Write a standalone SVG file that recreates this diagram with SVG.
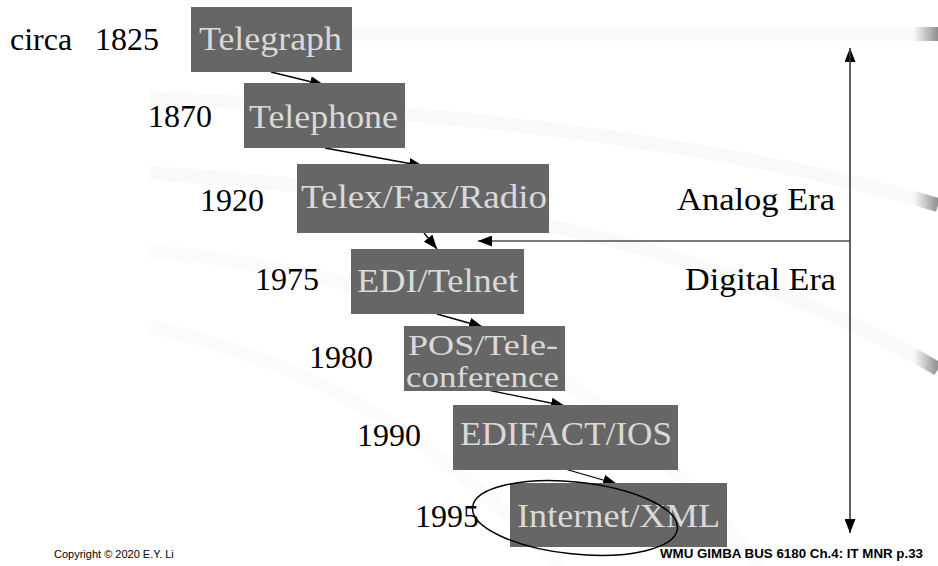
<svg xmlns="http://www.w3.org/2000/svg" width="938" height="566" viewBox="0 0 938 566">
<defs>
  <linearGradient id="swEnd" gradientUnits="userSpaceOnUse" x1="914" y1="0" x2="938" y2="0">
    <stop offset="0" stop-color="#f9f9f9"/>
    <stop offset="1" stop-color="#8f8f8f"/>
  </linearGradient>
  <marker id="ah" markerWidth="14" markerHeight="11" refX="14" refY="5.5" orient="auto" markerUnits="userSpaceOnUse">
    <path d="M0,0 L14,5.5 L0,11 z" fill="#000"/>
  </marker>
</defs>
<style>
  .sw { fill: none; stroke: url(#swEnd); stroke-width: 14; }
  .sw2 { fill: none; stroke: #fbfbfb; stroke-width: 14; }
  .box { fill: #666666; }
  .bt { font-family: "Liberation Serif", "Times New Roman", serif; font-size: 33px; fill: #d9d9d9; }
  .bt2 { font-family: "Liberation Serif", "Times New Roman", serif; font-size: 29px; fill: #d9d9d9; }
  .lab { font-family: "Liberation Serif", "Times New Roman", serif; font-size: 32px; fill: #000; }
  .con { fill: none; stroke: #000; stroke-width: 1.3; marker-end: url(#ah); }
  .era { fill: none; stroke: #4d4d4d; stroke-width: 1.3; }
  .foot { font-family: "Liberation Sans", Arial, sans-serif; fill: #000; }
</style>
<rect width="938" height="566" fill="#ffffff"/>
<!-- background swooshes -->
<g id="background">
  <path class="sw" d="M255 34 L938 34"/>
  <path class="sw" d="M150 98 Q640 118 938 205"/>
  <path class="sw" d="M150 173 Q660 205 938 369"/>
  <path class="sw2" d="M150 251 C 380 275, 560 320, 760 566"/>
  <path class="sw2" d="M150 327 C 300 360, 420 420, 560 566"/>
</g>

<g id="connectors">
  <line class="con" x1="271" y1="72" x2="324" y2="85"/>
  <line class="con" x1="325" y1="148" x2="423" y2="166"/>
  <line class="con" x1="424" y1="233" x2="437" y2="249"/>
  <line class="con" x1="437" y1="314" x2="483" y2="327"/>
  <line class="con" x1="483" y1="389" x2="565" y2="406"/>
  <line class="con" x1="565" y1="469" x2="617" y2="484"/>
  <line class="era" x1="850" y1="533" x2="850" y2="48" marker-end="url(#ah)"/>
  <line class="era" x1="850" y1="48" x2="850" y2="533" marker-end="url(#ah)"/>
  <line class="era" x1="850" y1="241" x2="478" y2="241" marker-end="url(#ah)"/>
</g>

<g id="telegraph">
  <rect class="box" x="191" y="7" width="161" height="65"/>
  <text class="bt" x="199" y="50" textLength="143" lengthAdjust="spacingAndGlyphs">Telegraph</text>
</g>
<g id="telephone">
  <rect class="box" x="244" y="83" width="161" height="65"/>
  <text class="bt" x="249" y="128" textLength="149" lengthAdjust="spacingAndGlyphs">Telephone</text>
</g>
<g id="telex">
  <rect class="box" x="297" y="164" width="252" height="69"/>
  <text class="bt" x="301" y="208" textLength="246" lengthAdjust="spacingAndGlyphs">Telex/Fax/Radio</text>
</g>
<g id="edi">
  <rect class="box" x="351" y="249" width="173" height="65"/>
  <text class="bt" x="357" y="292" textLength="161" lengthAdjust="spacingAndGlyphs">EDI/Telnet</text>
</g>
<g id="pos">
  <rect class="box" x="404" y="326" width="161" height="65"/>
  <text class="bt2" x="408" y="355" textLength="150" lengthAdjust="spacingAndGlyphs">POS/Tele-</text>
  <text class="bt2" x="406" y="387" textLength="153" lengthAdjust="spacingAndGlyphs">conference</text>
</g>
<g id="edifact">
  <rect class="box" x="453" y="405" width="225" height="65"/>
  <text class="bt" x="460" y="445" textLength="212" lengthAdjust="spacingAndGlyphs">EDIFACT/IOS</text>
</g>
<g id="internet">
  <rect class="box" x="510" y="483" width="217" height="64"/>
  <text class="bt" x="517" y="527" textLength="203" lengthAdjust="spacingAndGlyphs">Internet/XML</text>
</g>

<g id="labels">
  <text class="lab" x="10" y="50">circa</text>
  <text class="lab" x="95" y="50">1825</text>
  <text class="lab" x="148" y="127">1870</text>
  <text class="lab" x="200" y="211">1920</text>
  <text class="lab" x="255" y="290">1975</text>
  <text class="lab" x="309" y="368">1980</text>
  <text class="lab" x="357" y="446">1990</text>
  <text class="lab" x="415" y="527">1995</text>
  <text class="lab" x="677" y="210" textLength="158" lengthAdjust="spacingAndGlyphs">Analog Era</text>
  <text class="lab" x="685" y="290" textLength="151" lengthAdjust="spacingAndGlyphs">Digital Era</text>
</g>

<g id="highlight">
  <ellipse cx="575" cy="518" rx="103" ry="36" transform="rotate(6 575 518)" fill="none" stroke="#000" stroke-width="1.5"/>
</g>

<g id="footer">
  <text class="foot" x="54" y="558" font-size="11">Copyright © 2020 E.Y. Li</text>
  <text class="foot" x="660" y="558" font-size="13" font-weight="bold" textLength="263" lengthAdjust="spacingAndGlyphs">WMU GIMBA BUS 6180 Ch.4: IT MNR p.33</text>
</g>
</svg>
